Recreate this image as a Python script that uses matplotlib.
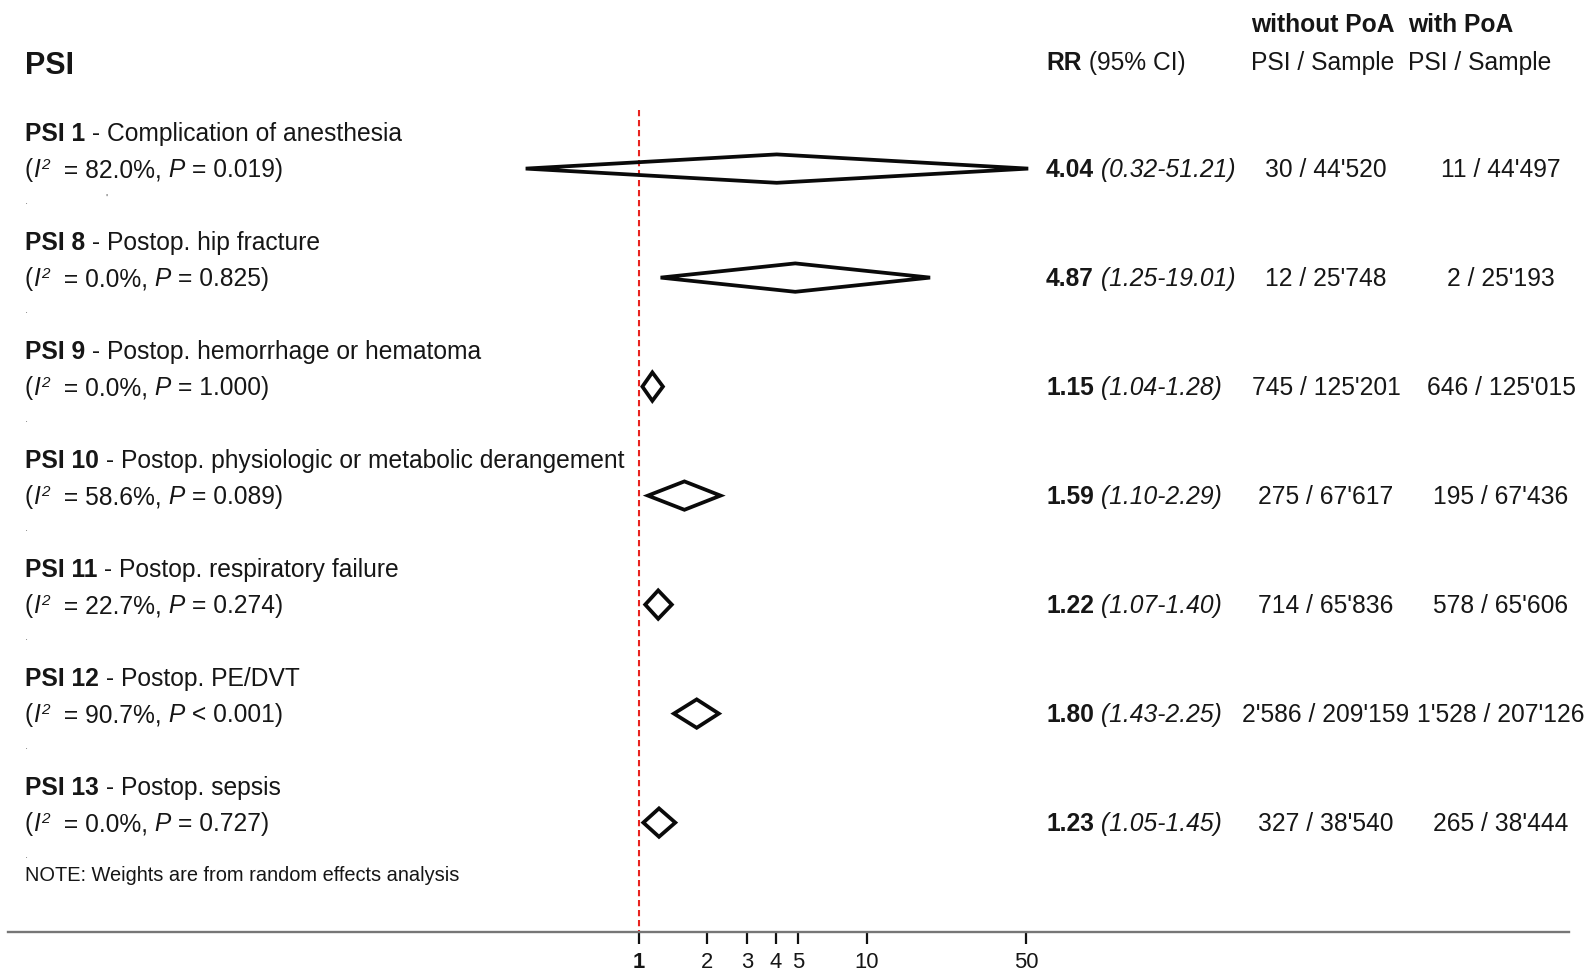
import matplotlib
matplotlib.use("Agg")
import matplotlib.pyplot as plt
from matplotlib.patches import Polygon
from matplotlib.ticker import NullLocator, FixedLocator

plt.rcParams['font.family'] = ['Liberation Sans', 'DejaVu Sans']

# ---------------- data ----------------
psi_codes = ["PSI 1", "PSI 8", "PSI 9", "PSI 10", "PSI 11", "PSI 12", "PSI 13"]
psi_names = ["Complication of anesthesia", "Postop. hip fracture",
             "Postop. hemorrhage or hematoma",
             "Postop. physiologic or metabolic derangement",
             "Postop. respiratory failure", "Postop. PE/DVT", "Postop. sepsis"]
i2_values = ["82.0%", "0.0%", "0.0%", "58.6%", "22.7%", "90.7%", "0.0%"]
p_values = ["= 0.019", "= 0.825", "= 1.000", "= 0.089", "= 0.274", "< 0.001", "= 0.727"]
rr = [4.04, 4.87, 1.15, 1.59, 1.22, 1.80, 1.23]
rr_lo = [0.32, 1.25, 1.04, 1.10, 1.07, 1.43, 1.05]
rr_hi = [51.21, 19.01, 1.28, 2.29, 1.40, 2.25, 1.45]
without_poa = ["30 / 44'520", "12 / 25'748", "745 / 125'201", "275 / 67'617",
               "714 / 65'836", "2'586 / 209'159", "327 / 38'540"]
with_poa = ["11 / 44'497", "2 / 25'193", "646 / 125'015", "195 / 67'436",
            "578 / 65'606", "1'528 / 207'126", "265 / 38'444"]
xtick_values = [1, 2, 3, 4, 5, 10, 50]
xtick_labels = ["1", "2", "3", "4", "5", "10", "50"]

# ---------------- layout ----------------
W, H = 1592, 974
DPI = 100
fig = plt.figure(figsize=(W / DPI, H / DPI), dpi=DPI)
TXT = '#161616'
FS = 17.7          # body text
FS_HEAD = 22
FS_NOTE = 14.4
FS_TICK = 15.8

def fx(x):
    return x / W

def fy(y):
    return 1 - y / H

# overlay axes for text
tax = fig.add_axes([0, 0, 1, 1])
tax.set_xlim(0, W)
tax.set_ylim(H, 0)
tax.axis('off')

def rich(x, y, parts, size=FS):
    """parts: list of (text, weight, style, kind) ; kind 'n' normal, 's' superscript"""
    first = parts[0]
    t = tax.text(x, y, first[0], fontsize=size, fontweight=first[1],
                 fontstyle=first[2], color=TXT, ha='left', va='baseline')
    base = t
    prev = t
    for txt, wt, st, kind in parts[1:]:
        if kind == 's':
            a = tax.annotate(txt, xy=(1, 0.42), xycoords=prev, xytext=(1.0, 0),
                             textcoords='offset points', fontsize=size * 0.62,
                             fontweight=wt, fontstyle=st, color=TXT,
                             ha='left', va='bottom', annotation_clip=False)
        else:
            a = tax.annotate(txt, xy=(1, 0), xycoords=(prev, base),
                             fontsize=size, fontweight=wt, fontstyle=st,
                             color=TXT, ha='left', va='bottom',
                             annotation_clip=False)
            base = a
        prev = a
    return t

# ---------------- forest axes ----------------
row0_px = 168.6
row_step = 109.0
axis_px = 932.0
x1_px = 638.5
decade_px = 228.0
left_px, right_px = 8.0, 1569.0

ax = fig.add_axes([fx(left_px), fy(axis_px), (right_px - left_px) / W, axis_px / H])
ax.patch.set_alpha(0)
ax.set_xscale('log')
ax.set_xlim(10 ** ((left_px - x1_px) / decade_px), 10 ** ((right_px - x1_px) / decade_px))
y_bottom = (axis_px - row0_px) / row_step
y_top = (0 - row0_px) / row_step
ax.set_ylim(y_bottom, y_top)

for s in ['top', 'left', 'right']:
    ax.spines[s].set_visible(False)
ax.spines['bottom'].set_color('#767676')
ax.spines['bottom'].set_linewidth(1.7)
ax.yaxis.set_visible(False)
ax.xaxis.set_major_locator(FixedLocator(xtick_values))
ax.xaxis.set_minor_locator(NullLocator())
ax.set_xticklabels(xtick_labels)
ax.tick_params(axis='x', direction='out', length=8.6, width=1.6, color='#111111',
               pad=6, labelsize=FS_TICK, labelcolor=TXT)
ax.get_xticklabels()[0].set_fontweight('bold')

# null line
red_top = (109.7 - row0_px) / row_step
ax.vlines(1, red_top, y_bottom, colors='#e8231f', linewidth=1.5,
          linestyles=(0, (3.0, 1.8)), zorder=1)

# diamonds
half_h = 14.2 / row_step
for i in range(len(rr)):
    poly = Polygon([(rr_lo[i], i), (rr[i], i - half_h), (rr_hi[i], i), (rr[i], i + half_h)],
                   closed=True, fill=False, edgecolor='#0a0a0a', linewidth=2.7,
                   joinstyle='miter', zorder=3)
    ax.add_patch(poly)

# ---------------- texts ----------------
tax.text(25, 73.5, "PSI", fontsize=FS_HEAD, fontweight='bold', color=TXT,
         ha='left', va='baseline')
rich(1046, 70, [("RR", 'bold', 'normal', 'n'), (" (95% CI)", 'normal', 'normal', 'n')])
tax.text(1251, 32, "without PoA", fontsize=FS, fontweight='bold', color=TXT, va='baseline')
tax.text(1408, 32, "with PoA", fontsize=FS, fontweight='bold', color=TXT, va='baseline')
tax.text(1251, 70, "PSI / Sample", fontsize=FS, color=TXT, va='baseline')
tax.text(1408, 70, "PSI / Sample", fontsize=FS, color=TXT, va='baseline')

col_without = 1326
col_with = 1501
for i in range(len(rr)):
    yl = 140.7 + row_step * i
    ys = 177.2 + row_step * i
    rich(25, yl, [(psi_codes[i], 'bold', 'normal', 'n'),
                  (" - " + psi_names[i], 'normal', 'normal', 'n')])
    rich(25, ys, [("(", 'normal', 'normal', 'n'),
                  ("I", 'normal', 'italic', 'n'),
                  ("2", 'normal', 'italic', 's'),
                  ("  = " + i2_values[i] + ",", 'normal', 'normal', 'n'),
                  (" P", 'normal', 'italic', 'n'),
                  (" " + p_values[i] + ")", 'normal', 'normal', 'n')])
    rich(1046, ys, [("%.2f" % rr[i], 'bold', 'normal', 'n'),
                    (" (%.2f-%.2f)" % (rr_lo[i], rr_hi[i]), 'normal', 'italic', 'n')])
    tax.text(col_without, ys, without_poa[i], fontsize=FS, color=TXT,
             ha='center', va='baseline')
    tax.text(col_with, ys, with_poa[i], fontsize=FS, color=TXT,
             ha='center', va='baseline')
    # small stray dots of the original export
    tax.text(25, 204 + row_step * i, ".", fontsize=8, color='#777777',
             ha='left', va='baseline')
tax.text(105, 202, "'", fontsize=8, color='#555555', ha='left', va='baseline')

tax.text(25, 881, "NOTE: Weights are from random effects analysis", fontsize=FS_NOTE,
         color=TXT, ha='left', va='baseline')

fig.savefig("out.png", dpi=DPI)
